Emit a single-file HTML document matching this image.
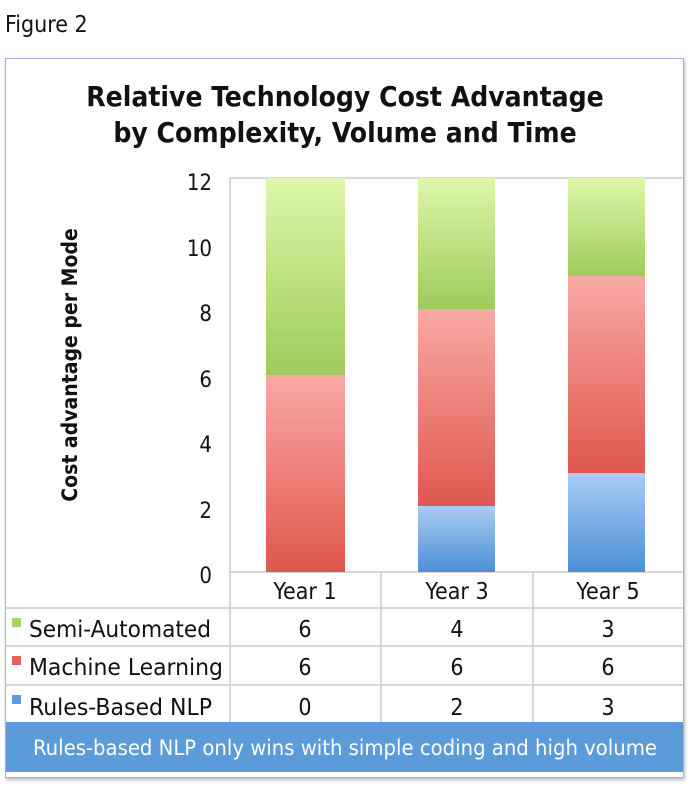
<!DOCTYPE html>
<html><head><meta charset="utf-8"><style>
body{margin:0;background:#fff;width:690px;height:786px;position:relative;font-family:"DejaVu Sans Condensed","Liberation Sans",sans-serif;overflow:hidden}
.a{position:absolute}
</style></head><body>
<div class="a" style="left:5px;top:12px;font-size:23px;color:#111">Figure 2</div>
<div class="a" style="left:5px;top:58px;width:677px;height:718px;border:1px solid #9db6d4;box-shadow:1px 2px 3px #bbb"></div>
<div class="a" style="left:20px;top:79px;width:650px;text-align:center;font-weight:bold;font-size:28px;line-height:36px;color:#111;font-stretch:condensed">Relative Technology Cost Advantage<br>by Complexity, Volume and Time</div>
<svg class="a" style="left:0;top:0" width="690" height="786">
<defs>
<linearGradient id="g" x1="0" y1="0" x2="0" y2="1"><stop offset="0" stop-color="#def7a8"/><stop offset="1" stop-color="#9dcc5c"/></linearGradient>
<linearGradient id="r" x1="0" y1="0" x2="0" y2="1"><stop offset="0" stop-color="#f9a9a4"/><stop offset="1" stop-color="#df574e"/></linearGradient>
<linearGradient id="b" x1="0" y1="0" x2="0" y2="1"><stop offset="0" stop-color="#a9cdf5"/><stop offset="1" stop-color="#4c8fd6"/></linearGradient>
</defs>
<g stroke="#ccc" stroke-width="1.5" fill="none">
<line x1="230" y1="178" x2="683" y2="178"/>
<line x1="230" y1="178" x2="230" y2="722"/>
<line x1="381" y1="572" x2="381" y2="722"/>
<line x1="533" y1="572" x2="533" y2="722"/>
<line x1="230" y1="572" x2="683" y2="572"/>
<line x1="6" y1="608" x2="683" y2="608"/>
<line x1="6" y1="646" x2="683" y2="646"/>
<line x1="6" y1="685" x2="683" y2="685"/>
</g>
<rect x="266" y="178" width="79" height="197" fill="url(#g)"/>
<rect x="266" y="375" width="79" height="197" fill="url(#r)"/>
<rect x="418" y="178" width="77" height="131" fill="url(#g)"/>
<rect x="418" y="309" width="77" height="197" fill="url(#r)"/>
<rect x="418" y="506" width="77" height="66" fill="url(#b)"/>
<rect x="568" y="178" width="77" height="98" fill="url(#g)"/>
<rect x="568" y="276" width="77" height="197" fill="url(#r)"/>
<rect x="568" y="473" width="77" height="99" fill="url(#b)"/>
<g font-size="22" fill="#111" text-anchor="end" font-family="DejaVu Sans Condensed, Liberation Sans, sans-serif">
<text x="212" y="190">12</text><text x="212" y="256">10</text><text x="212" y="321">8</text>
<text x="212" y="387">6</text><text x="212" y="452">4</text><text x="212" y="518">2</text><text x="212" y="583">0</text>
</g>
<text transform="translate(77,365) rotate(-90)" text-anchor="middle" font-size="21" font-weight="bold" fill="#111" font-family="DejaVu Sans Condensed, Liberation Sans, sans-serif">Cost advantage per Mode</text>
<g font-size="23" fill="#111" text-anchor="middle" font-family="DejaVu Sans Condensed, Liberation Sans, sans-serif">
<text x="305" y="599">Year 1</text><text x="457" y="599">Year 3</text><text x="608" y="599">Year 5</text>
<text x="305" y="637">6</text><text x="457" y="637">4</text><text x="608" y="637">3</text>
<text x="305" y="675">6</text><text x="457" y="675">6</text><text x="608" y="675">6</text>
<text x="305" y="715">0</text><text x="457" y="715">2</text><text x="608" y="715">3</text>
</g>
<rect x="12" y="618" width="9" height="9" fill="#a5d466"/>
<rect x="12" y="656" width="9" height="9" fill="#e2635a"/>
<rect x="12" y="695" width="9" height="9" fill="#5a9ae0"/>
<g font-size="23" fill="#111" font-family="DejaVu Sans Condensed, Liberation Sans, sans-serif">
<text x="29" y="637" textLength="182" lengthAdjust="spacingAndGlyphs">Semi-Automated</text><text x="29" y="675" textLength="194" lengthAdjust="spacingAndGlyphs">Machine Learning</text><text x="29" y="715" textLength="183" lengthAdjust="spacingAndGlyphs">Rules-Based NLP</text>
</g>
<rect x="6" y="722" width="677" height="50" fill="#5b9bd9"/>
<text x="345" y="755" text-anchor="middle" font-size="21" fill="#fff" font-family="DejaVu Sans Condensed, Liberation Sans, sans-serif" textLength="624" lengthAdjust="spacingAndGlyphs">Rules-based NLP only wins with simple coding and high volume</text>
</svg>
</body></html>
